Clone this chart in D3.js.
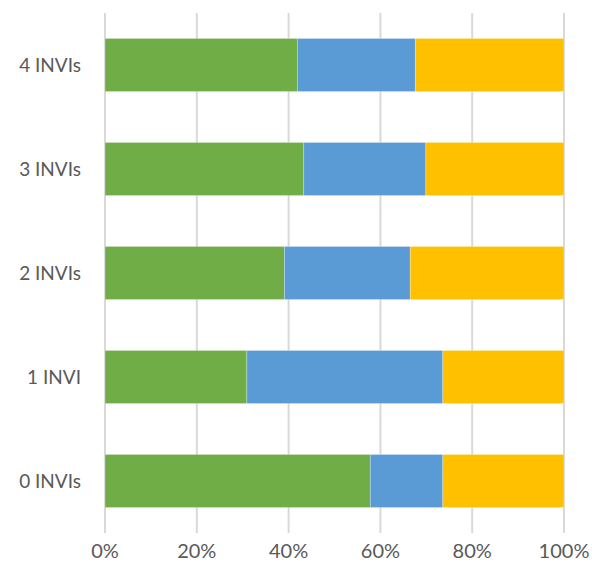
<!DOCTYPE html>
<html>
<head>
<meta charset="utf-8">
<script src="https://cdn.jsdelivr.net/npm/d3@7"></script>
<style>
html,body{margin:0;padding:0;background:#fff;}
svg{display:block;}
text{font-family:Lato,"Open Sans",sans-serif;fill:#595959;}
</style>
</head>
<body>
<svg id="chart" width="592" height="572"></svg>
<script>
const categories = ["4 INVIs", "3 INVIs", "2 INVIs", "1 INVI", "0 INVIs"];
const seriesNames = ["Green", "Blue", "Gold"];
const green = [41.9, 43.3, 39.1, 30.9, 57.8];
const blue  = [25.7, 26.6, 27.4, 42.7, 15.8];
const gold  = [32.4, 30.1, 33.5, 26.4, 26.4];
const colors = ["#70AD47", "#5B9BD5", "#FFC000"];
const xTicks = [0, 20, 40, 60, 80, 100];

const svg = d3.select("#chart");
const margin = {left:105, right:28, top:13, bottom:39};
const W = 592, H = 572;

const x = d3.scaleLinear().domain([0,100]).range([margin.left, W - margin.right]);
const y = d3.scaleBand().domain(categories).range([margin.top, H - margin.bottom]).paddingInner(0.49).paddingOuter(0.245);

// gridlines
svg.append("g").selectAll("line").data(xTicks).join("line")
  .attr("x1", d => x(d)).attr("x2", d => x(d))
  .attr("y1", margin.top).attr("y2", H - margin.bottom)
  .attr("stroke", "#D9D9D9").attr("stroke-width", 2);

const rows = categories.map((c,i) => ({cat:c, vals:[green[i], blue[i], gold[i]]}));
rows.forEach(r => {
  let acc = 0;
  r.vals.forEach((v,j) => {
    svg.append("rect")
      .attr("x", x(acc)).attr("width", x(acc+v) - x(acc))
      .attr("y", y(r.cat)).attr("height", y.bandwidth())
      .attr("fill", colors[j])
      .attr("stroke", "#ffffff").attr("stroke-opacity", 0.35).attr("stroke-width", 0.75);
    acc += v;
  });
});

// x axis labels
svg.append("g").selectAll("text").data(xTicks).join("text")
  .attr("x", d => x(d)).attr("y", 558)
  .attr("text-anchor", "middle")
  .style("font-size", "20px")
  .text(d => d + "%");

// y labels
svg.append("g").selectAll("text").data(categories).join("text")
  .attr("x", 81).attr("y", d => y(d) + y.bandwidth()/2)
  .attr("dy", "0.35em")
  .attr("text-anchor", "end")
  .style("font-size", "19px")
  .text(d => d);
</script>
</body>
</html>
